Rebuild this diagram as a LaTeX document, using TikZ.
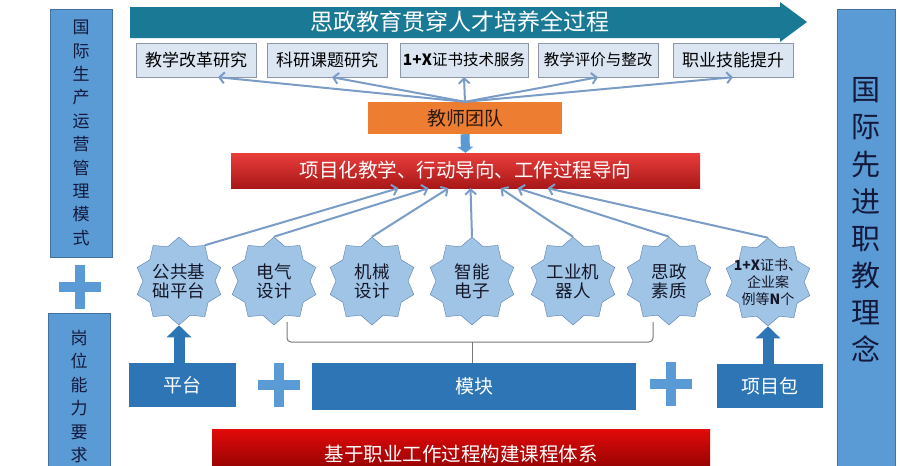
\documentclass[tikz,border=0pt]{standalone}
\usepackage{fontspec}
\setmainfont{Noto Sans CJK SC}
\usetikzlibrary{shapes.geometric,arrows.meta}

\definecolor{headteal}{RGB}{26,122,150}
\definecolor{boxfill}{RGB}{220,230,242}
\definecolor{boxline}{RGB}{140,150,165}
\definecolor{fanblue}{RGB}{122,156,198}
\definecolor{teamorange}{RGB}{237,125,49}
\definecolor{redtopa}{RGB}{234,62,60}
\definecolor{redbota}{RGB}{168,24,24}
\definecolor{redtopb}{RGB}{226,10,10}
\definecolor{redbotb}{RGB}{128,0,0}
\definecolor{sidefill}{RGB}{91,155,213}
\definecolor{sideline}{RGB}{65,113,156}
\definecolor{sidetext}{RGB}{20,25,60}
\definecolor{starfill}{RGB}{160,196,230}
\definecolor{starline}{RGB}{90,125,170}
\definecolor{startextc}{RGB}{20,22,40}
\definecolor{basefill}{RGB}{46,117,182}
\definecolor{plusblue}{RGB}{91,155,213}
\definecolor{bracegray}{RGB}{120,120,120}

\begin{document}
\begin{tikzpicture}[x=1pt,y=-1pt,
  subbox/.style={draw=boxline,fill=boxfill,minimum height=34pt,inner sep=0pt,font=\fontsize{17}{19}\selectfont},
  sidebox/.style={draw=sideline,fill=sidefill,inner sep=0pt,text=sidetext,align=center},
  starnode/.style={star,star points=10,star point ratio=1.22,minimum size=88pt,inner sep=0pt,draw=starline,fill=starfill},
  startext/.style={align=center,text=startextc,inner sep=0pt,font=\fontsize{17.5}{19}\selectfont},
  basebox/.style={fill=basefill,text=white,inner sep=0pt,font=\fontsize{19}{21}\selectfont},
  redbar/.style={text=white,inner sep=0pt,font=\fontsize{19.5}{21}\selectfont},
  fan/.style={draw=fanblue,line width=2pt,-{Straight Barb[length=5pt,width=11pt]}},
  blockup/.style={draw=basefill,line width=11pt,-{Triangle[length=12pt,width=24pt]}},
  brace/.style={draw=bracegray,line width=1pt},
  plusline/.style={draw=plusblue,line width=10pt},
  plussign/.pic={
    \draw[plusline] (-21,0) -- (21,0);
    \draw[plusline] (0,-22) -- (0,22);
  }
]
\useasboundingbox (0,0) rectangle (900,466);

\fill[headteal] (130,7) -- (780,7) -- (780,2) -- (807,22) -- (780,42) -- (780,38) -- (130,38) -- cycle;
\node[text=white,font=\fontsize{23}{25}\selectfont] (ttl) at (460,22) {思政教育贯穿人才培养全过程};

\node[subbox,minimum width=120pt] (b1) at (196,60) {教学改革研究};
\node[subbox,minimum width=120pt] (b2) at (327,60) {科研课题研究};
\node[subbox,minimum width=128pt,font=\fontsize{15.5}{18}\selectfont] (b3) at (464,60) {\textbf{1+X}证书技术服务};
\node[subbox,minimum width=120pt,font=\fontsize{15.5}{18}\selectfont] (b4) at (598,60) {教学评价与整改};
\node[subbox,minimum width=120pt] (b5) at (733,60) {职业技能提升};

\node[fill=teamorange,minimum width=194pt,minimum height=32pt,inner sep=0pt,text={rgb,255:red,40;green,25;blue,15},font=\fontsize{19}{21}\selectfont] (t) at (465,118) {教师团队};

\node[redbar,top color=redtopa,bottom color=redbota,minimum width=469pt,minimum height=35pt] (bar1) at (465.5,170.5) {项目化教学、行动导向、工作过程导向};

\node[sidebox,minimum width=62pt,minimum height=248pt,font=\fontsize{17}{23.4}\selectfont] (lt) at (81,133) {国\\际\\生\\产\\运\\营\\管\\理\\模\\式};
\pic at (80,287) {plussign};
\node[sidebox,minimum width=62pt,minimum height=167pt,font=\fontsize{17}{23.4}\selectfont] (lb) at (79,396.5) {岗\\位\\能\\力\\要\\求};
\node[sidebox,minimum width=58pt,minimum height=471pt] (rb) at (866,244.5) {};
\node[align=center,text=sidetext,inner sep=0pt,font=\fontsize{29}{37.1}\selectfont] (rbt) at (866,220) {国\\际\\先\\进\\职\\教\\理\\念};

\node[starnode,label={[startext]center:公共基\\础平台}] (s1) at (179,281) {};
\node[starnode,label={[startext]center:电气\\设计}] (s2) at (274,281) {};
\node[starnode,label={[startext]center:机械\\设计}] (s3) at (372,281) {};
\node[starnode,label={[startext]center:智能\\电子}] (s4) at (472,281) {};
\node[starnode,label={[startext]center:工业机\\器人}] (s5) at (573,281) {};
\node[starnode,label={[startext]center:思政\\素质}] (s6) at (669,281) {};
\node[starnode,label={[startext,font=\fontsize{14}{17}\selectfont]center:\textbf{1+X}证书、\\企业案\\例等\textbf{N}个}] (s7) at (768,282) {};

\node[basebox,minimum width=107pt,minimum height=44pt] (pt) at (182.5,385) {平台};
\pic at (278.5,385) {plussign};
\node[basebox,minimum width=324pt,minimum height=47pt] (mk) at (474,386.5) {模块};
\pic at (670.5,384) {plussign};
\node[basebox,minimum width=106pt,minimum height=44pt] (xm) at (770,386) {项目包};

\node[redbar,top color=redtopb,bottom color=redbotb,minimum width=498pt,minimum height=51pt] (bar2) at (461,454.5) {基于职业工作过程构建课程体系};

\draw[fan] (t.north) -- ([xshift=22pt]b1.south);
\draw[fan] (t.north) -- ([xshift=5pt]b2.south);
\draw[fan] (t.north) -- (b3.south);
\draw[fan] (t.north) -- (b4.south);
\draw[fan] (t.north) -- (b5.south);

\draw[draw=plusblue,line width=9pt,-{Triangle[length=6pt,width=16pt]}] (t.south) -- (bar1.north);

\draw[fan] (s1.54) -- ([xshift=-67pt]bar1.south);
\draw[fan] (s2.north) -- ([xshift=-37pt]bar1.south);
\draw[fan] (s3.north) -- ([xshift=-17pt]bar1.south);
\draw[fan] (s4.north) -- ([xshift=5pt]bar1.south);
\draw[fan] (s5.north) -- ([xshift=35pt]bar1.south);
\draw[fan] (s6.north) -- ([xshift=52pt]bar1.south);
\draw[fan] (s7.north) -- ([xshift=82pt]bar1.south);

\draw[blockup] (pt.north -| s1.south) -- (s1.south);
\draw[blockup] (xm.north -| s7.south) -- (s7.south);

\coordinate (brl) at (287,322);
\coordinate (brr) at (653,322);
\coordinate (brm) at (472,342);
\draw[brace,rounded corners=4pt] (brl) |- (brm) -| (brr);
\draw[brace] (brm) -- (brm |- mk.north);

\end{tikzpicture}
\end{document}
